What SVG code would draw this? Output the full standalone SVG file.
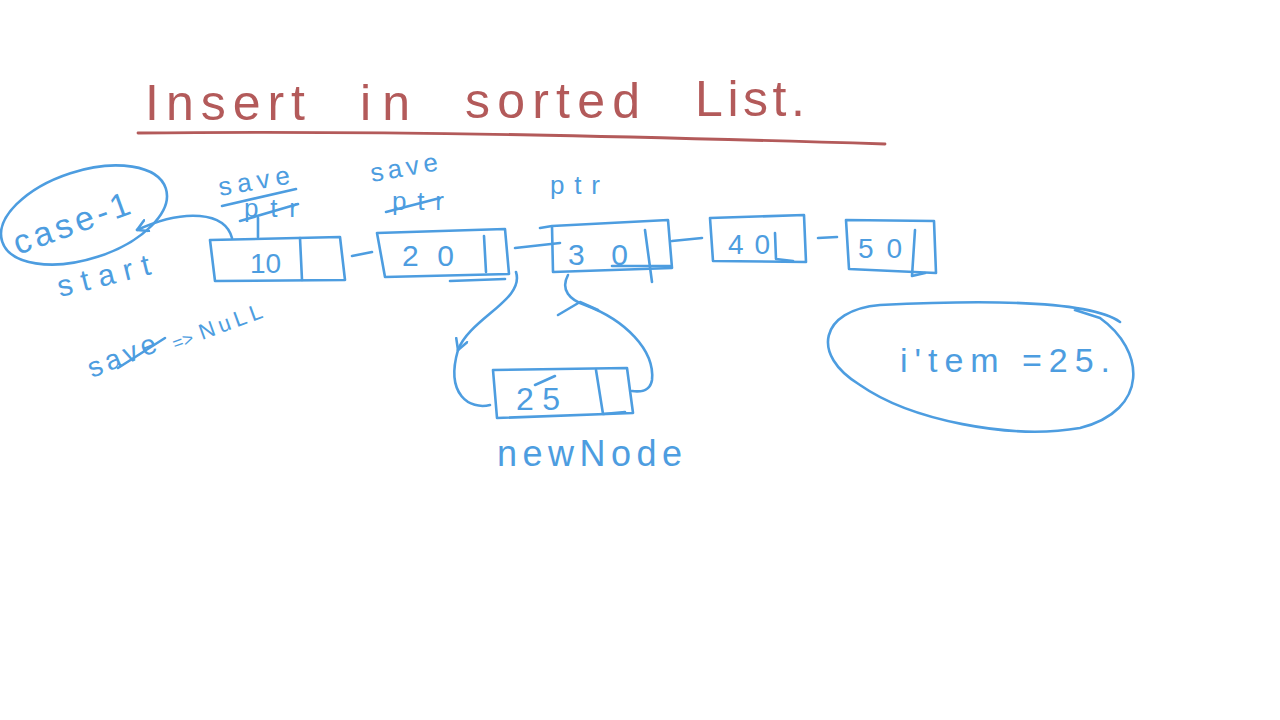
<svg xmlns="http://www.w3.org/2000/svg" width="1280" height="720" viewBox="0 0 1280 720">
<style>
.b{fill:none;stroke:#4d9de0;stroke-width:2.6;stroke-linecap:round;stroke-linejoin:round}
.r{fill:none;stroke:#b35a5a;stroke-width:2.8;stroke-linecap:round}
.t{font-family:"Liberation Sans",Arial,sans-serif;fill:#4d9de0}
.h{font-family:"Liberation Sans",Arial,sans-serif;fill:#b35a5a;font-size:50px}
</style>
<defs>
<marker id="ah" viewBox="0 0 12 12" refX="10" refY="6" markerWidth="14" markerHeight="14" markerUnits="userSpaceOnUse" orient="auto">
<path d="M1,1 L10,6 L1,11" fill="none" stroke="#4d9de0" stroke-width="2.2" stroke-linecap="round" stroke-linejoin="round"/>
</marker>
</defs>
<rect width="1280" height="720" fill="#fff"/>

<g id="title">
<text class="h" x="145" y="120" textLength="160" lengthAdjust="spacing">Insert</text>
<text class="h" x="360" y="120" textLength="50" lengthAdjust="spacing">in</text>
<text class="h" x="465" y="118" textLength="175" lengthAdjust="spacing">sorted</text>
<text class="h" x="695" y="116" textLength="110" lengthAdjust="spacing">List.</text>
<path class="r" d="M138,133 C400,130 650,137 885,144"/>
</g>

<g id="case1">
<ellipse class="b" cx="84" cy="215" rx="86" ry="44" transform="rotate(-18 84 215)"/>
<text class="t" x="18" y="255" font-size="34" transform="rotate(-20 18 255)" textLength="122" lengthAdjust="spacing">case-1</text>
<text class="t" x="60" y="297" font-size="30" transform="rotate(-14 60 297)" textLength="95" lengthAdjust="spacing">start</text>
</g>

<g id="labels">
<text class="t" x="220" y="196" font-size="26" transform="rotate(-10 220 196)" textLength="72" lengthAdjust="spacing">save</text>
<path class="b" d="M222,206 L296,189"/>
<text class="t" x="244" y="217" font-size="26" textLength="54" lengthAdjust="spacing">ptr</text>
<path class="b" d="M240,221 L298,204"/>
<path class="b" d="M258,218 L258,237"/>
<text class="t" x="372" y="182" font-size="26" transform="rotate(-10 372 182)" textLength="68" lengthAdjust="spacing">save</text>
<text class="t" x="392" y="210" font-size="26" textLength="52" lengthAdjust="spacing">ptr</text>
<path class="b" d="M386,212 L440,198"/>
<text class="t" x="550" y="194" font-size="26" textLength="50" lengthAdjust="spacing">ptr</text>
<text class="t" x="92" y="378" font-size="28" transform="rotate(-22 92 378)" textLength="72" lengthAdjust="spacing">save</text>
<path class="b" d="M118,368 L165,338"/>
<text class="t" x="175" y="350" font-size="18" transform="rotate(-20 175 350)">=&gt;</text>
<text class="t" x="202" y="340" font-size="22" transform="rotate(-20 202 340)" textLength="66" lengthAdjust="spacing">NuLL</text>
</g>

<g id="node10">
<path class="b" d="M210,240 L340,237 L345,280 L215,281 Z"/>
<path class="b" d="M300,238 L302,280"/>
<text class="t" x="250" y="273" font-size="28">10</text>
</g>
<g id="node20">
<path class="b" d="M377,233 L505,229 L509,274 L385,277 Z"/>
<path class="b" d="M484,236 L486,272"/>
<path class="b" d="M450,281 L505,279"/>
<text class="t" x="402" y="266" font-size="30" textLength="52" lengthAdjust="spacing">20</text>
</g>
<g id="node30">
<path class="b" d="M540,228 L552,226 L668,220 L672,268 L553,272 L552,226"/>
<path class="b" d="M645,230 L652,282"/>
<path class="b" d="M612,266 L670,266"/>
<text class="t" x="568" y="265" font-size="30" textLength="60" lengthAdjust="spacing">30</text>
</g>
<g id="node40">
<path class="b" d="M710,218 L804,215 L806,262 L713,261 Z"/>
<path class="b" d="M775,233 L776,259 L793,261"/>
<text class="t" x="728" y="254" font-size="28" textLength="42" lengthAdjust="spacing">40</text>
</g>
<g id="node50">
<path class="b" d="M846,220 L934,221 L936,273 L849,269 Z"/>
<path class="b" d="M915,230 L912,276 L925,273"/>
<text class="t" x="858" y="258" font-size="28" textLength="44" lengthAdjust="spacing">50</text>
</g>
<g id="newNode">
<path class="b" d="M493,370 L627,368 L633,413 L497,418 Z"/>
<path class="b" d="M596,370 L603,414 L625,412"/>
<text class="t" x="516" y="410" font-size="32" textLength="44" lengthAdjust="spacing">25</text>
<path class="b" d="M535,385 L555,376"/>
<text class="t" x="497" y="466" font-size="36" textLength="185" lengthAdjust="spacing">newNode</text>
</g>
<g id="item">
<path class="b" d="M1120,322 C1090,300 980,300 880,305 C820,310 810,355 860,385 C910,420 1010,440 1080,428 C1150,410 1145,350 1100,318 L1075,310"/>
<text class="t" x="900" y="372" font-size="34" textLength="210" lengthAdjust="spacing">i'tem =25.</text>
</g>

<g id="connectors">
<path class="b" d="M352,256 L372,252"/>
<path class="b" d="M515,248 L560,243"/>
<path class="b" d="M672,241 L702,238"/>
<path class="b" d="M818,238 L837,237"/>
<path class="b" d="M232,238 C225,212 185,208 137,230" marker-end="url(#ah)"/>
<path class="b" d="M516,272 C525,300 470,318 458,350" marker-end="url(#ah)"/>
<path class="b" d="M458,350 C445,395 470,410 490,405"/>
<path class="b" d="M568,275 C560,290 570,300 585,305 C625,320 655,350 652,380 C650,392 640,392 632,391"/>
<path class="b" d="M558,315 L580,302 L598,310"/>
</g>
</svg>
